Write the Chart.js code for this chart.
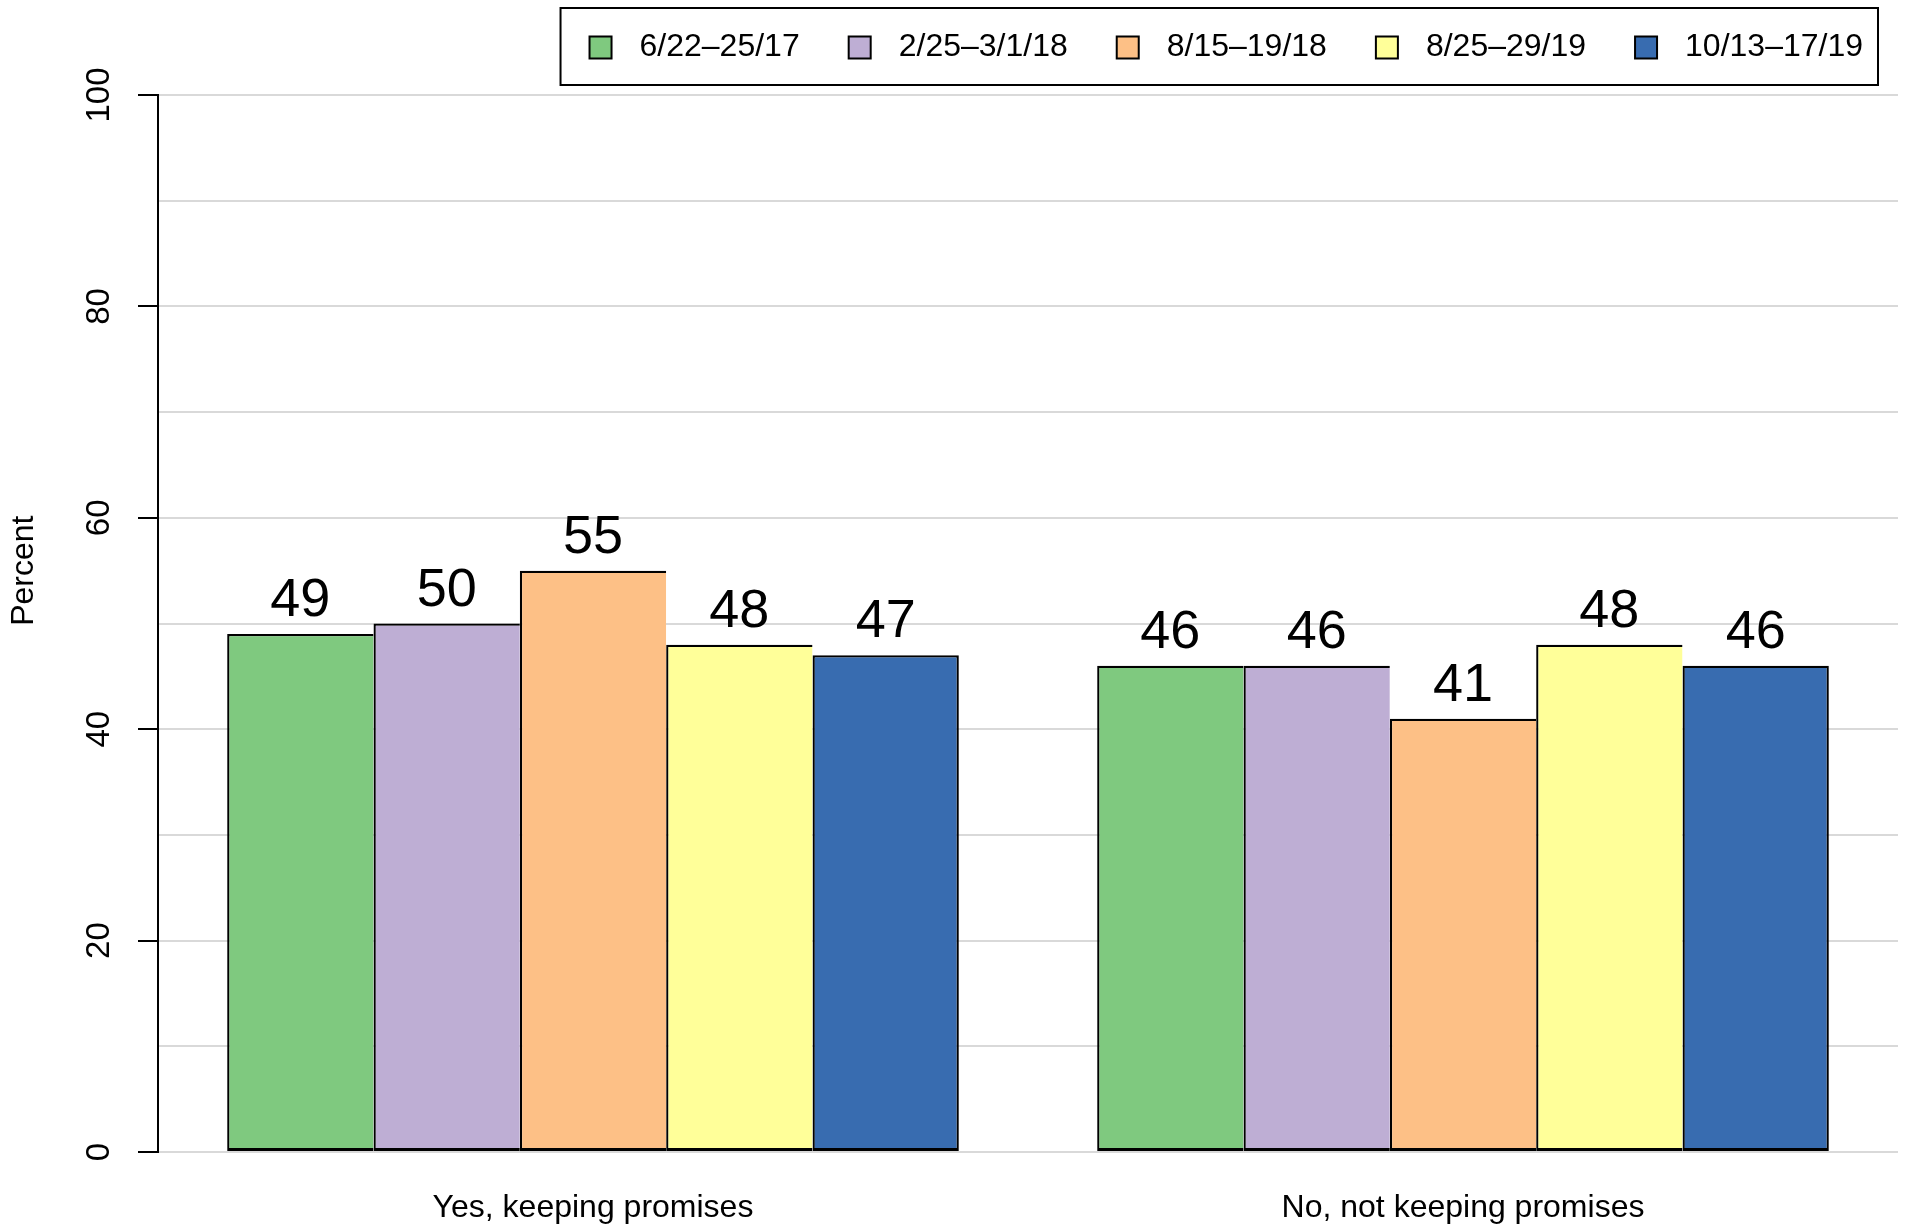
<!DOCTYPE html>
<html>
<head>
<meta charset="utf-8">
<title>Keeping promises</title>
<script src="https://cdn.jsdelivr.net/npm/chart.js@4.4.1/dist/chart.umd.min.js"></script>
<style>
  html, body { margin: 0; padding: 0; background: #ffffff; }
  #wrap { width: 1905px; height: 1230px; position: relative; }
</style>
</head>
<body>
<div id="wrap"><canvas id="promiseChart"></canvas></div>
<script>
// data --------------------------------------------------------------------->
const categories = ['Yes, keeping promises', 'No, not keeping promises'];
const waves = ['6/22–25/17', '2/25–3/1/18', '8/15–19/18', '8/25–29/19', '10/13–17/19'];
const jun17 = [49, 46];
const feb18 = [50, 46];
const aug18 = [55, 41];
const aug19 = [48, 48];
const oct19 = [47, 46];
const waveColors = ['#7fc97f', '#beaed4', '#fdc086', '#ffff99', '#386cb0'];
const yTickLabels = [0, 20, 40, 60, 80, 100];

const fontFamily = '"Liberation Sans", Arial, Helvetica, sans-serif';
const seriesValues = [jun17, feb18, aug18, aug19, oct19];

// build the datasets from the arrays above
// bars touch, so only the last one gets a right edge (one line between bars)
const datasets = [];
for (let i = 0; i < waves.length; i++) {
    const last = i === waves.length - 1;
    datasets.push({
        label: waves[i],
        data: seriesValues[i],
        backgroundColor: waveColors[i],
        borderColor: '#000000',
        borderWidth: { top: 2.3, bottom: 3, left: 2.3, right: last ? 2.3 : 0 },
        borderSkipped: false
    });
}

// numbers over the bars
const barValues = {
    id: 'barValues',
    afterDatasetsDraw(chart) {
        const ctx = chart.ctx;
        ctx.save();
        ctx.font = '54px ' + fontFamily;
        ctx.fillStyle = '#000000';
        ctx.textAlign = 'center';
        ctx.textBaseline = 'alphabetic';
        chart.data.datasets.forEach((ds, i) => {
            chart.getDatasetMeta(i).data.forEach((bar, j) => {
                ctx.fillText(String(ds.data[j]), bar.x, bar.y - 18);
            });
        });
        ctx.restore();
    }
};

// legend in a box, top right
const boxedLegend = {
    id: 'boxedLegend',
    afterDraw(chart) {
        const ctx = chart.ctx;
        const area = chart.chartArea;
        ctx.save();
        ctx.font = '32px ' + fontFamily;
        const sq = 22, gapText = 28, gapItem = 49, padL = 29, padR = 15;
        const widths = waves.map(w => ctx.measureText(w).width);
        let total = padL + padR;
        widths.forEach((w, i) => { total += sq + gapText + w + (i > 0 ? gapItem : 0); });
        const right = area.right - 20;
        const left = right - total;
        const top = 8, bottom = 85;
        const midY = (top + bottom) / 2 + 1;

        ctx.fillStyle = '#ffffff';
        ctx.fillRect(left, top, total, bottom - top);
        ctx.lineWidth = 2;
        ctx.strokeStyle = '#000000';
        ctx.strokeRect(left, top, total, bottom - top);

        let x = left + padL;
        ctx.textBaseline = 'middle';
        ctx.textAlign = 'left';
        waves.forEach((w, i) => {
            ctx.fillStyle = waveColors[i];
            ctx.fillRect(x, midY - sq / 2, sq, sq);
            ctx.strokeRect(x, midY - sq / 2, sq, sq);
            ctx.fillStyle = '#000000';
            ctx.fillText(w, x + sq + gapText, midY);
            x += sq + gapText + widths[i] + gapItem;
        });
        ctx.restore();
    }
};

// y axis title, centred a little above the middle like the original
const yTitle = {
    id: 'yTitle',
    afterDraw(chart) {
        const ctx = chart.ctx;
        const y = chart.scales.y.getPixelForValue(55);
        ctx.save();
        ctx.translate(24, y);
        ctx.rotate(-Math.PI / 2);
        ctx.font = '32px ' + fontFamily;
        ctx.fillStyle = '#000000';
        ctx.textAlign = 'center';
        ctx.textBaseline = 'middle';
        ctx.fillText('Percent', 0, 0);
        ctx.restore();
    }
};

const ctx = document.getElementById('promiseChart');
const promiseChart = new Chart(ctx, {
    type: 'bar',
    data: {
        labels: categories,
        datasets: datasets
    },
    options: {
        responsive: true,
        maintainAspectRatio: false,
        animation: false,
        layout: {
            padding: { top: 95, left: 74, right: 7, bottom: 3 }
        },
        datasets: {
            bar: {
                categoryPercentage: 0.841,
                barPercentage: 1.0
            }
        },
        plugins: {
            legend: { display: false },
            tooltip: { enabled: false }
        },
        scales: {
            x: {
                grid: { display: false, drawTicks: false },
                border: { display: false },
                ticks: {
                    color: '#000000',
                    padding: 37,
                    font: { family: fontFamily, size: 32 }
                },
                afterFit: (scale) => { scale.height = 75; }
            },
            y: {
                min: 0,
                max: 100,
                border: { display: true, color: '#000000', width: 2 },
                grid: {
                    color: '#d9d9d9',
                    lineWidth: 2,
                    tickLength: 20,
                    tickWidth: 2,
                    tickColor: (c) => yTickLabels.includes(c.tick.value) ? '#000000' : 'rgba(0,0,0,0)'
                },
                ticks: {
                    stepSize: 10,
                    color: '#000000',
                    padding: 11,
                    minRotation: 90,
                    maxRotation: 90,
                    crossAlign: 'center',
                    font: { family: fontFamily, size: 33 },
                    callback: (value) => yTickLabels.includes(value) ? String(value) : ''
                },
                afterFit: (scale) => { scale.width = 84; }
            }
        }
    },
    plugins: [barValues, boxedLegend, yTitle]
});
</script>
</body>
</html>
